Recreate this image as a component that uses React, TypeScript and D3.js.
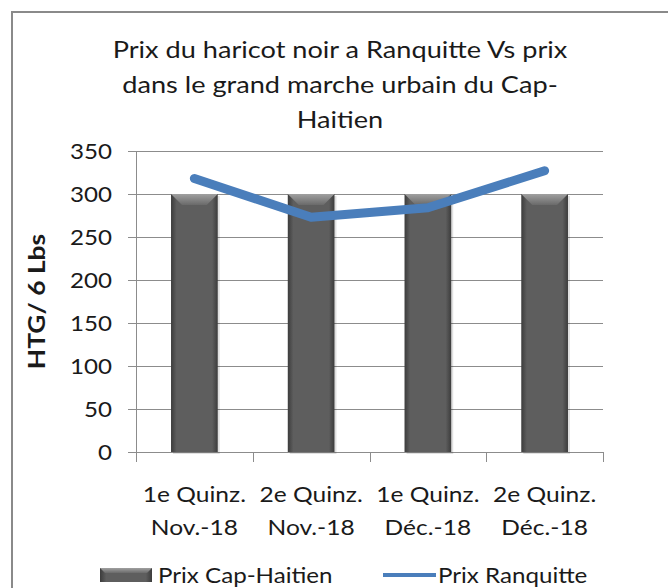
import { useEffect, useRef } from "react";
import * as d3 from "d3";

const categories = [
  ["1e Quinz.", "Nov.-18"],
  ["2e Quinz.", "Nov.-18"],
  ["1e Quinz.", "Déc.-18"],
  ["2e Quinz.", "Déc.-18"],
];
const prixCapHaitien = [300, 300, 300, 300];
const prixRanquitte = [318, 273, 284, 327];
const yTicks = [0, 50, 100, 150, 200, 250, 300, 350];
const titleLines = [
  "Prix du haricot noir a Ranquitte Vs prix",
  "dans le grand marche urbain du Cap-",
  "Haitien",
];

const FONT = "Lato, 'Open Sans', sans-serif";
const SX = 1.15; // the reference text is a bit wider than Lato

function App() {
  const svgRef = useRef<SVGSVGElement | null>(null);

  useEffect(() => {
    const svgEl = svgRef.current;
    if (!svgEl) return;
    const width = 668;
    const height = 588;
    const margin = { top: 151, right: 65, bottom: 136, left: 136 };
    const chartW = width - margin.left - margin.right;
    const chartH = height - margin.top - margin.bottom;

    const svg = d3.select(svgEl);
    svg.selectAll("*").remove();

    // text with horizontal stretch around its anchor
    const label = (
      parent: d3.Selection<any, any, any, any>,
      tx: number,
      ty: number,
      str: string,
      size: number,
      anchor = "start",
      sx = SX
    ) =>
      parent
        .append("text")
        .attr("transform", `translate(${tx},${ty}) scale(${sx},1)`)
        .attr("text-anchor", anchor)
        .attr("font-family", FONT)
        .attr("font-size", size)
        .attr("fill", "#1a1a1a")
        .text(str);

    const defs = svg.append("defs");
    const barGrad = defs
      .append("linearGradient")
      .attr("id", "barGrad")
      .attr("x1", "0")
      .attr("x2", "1")
      .attr("y1", "0")
      .attr("y2", "0");
    barGrad.append("stop").attr("offset", "0").attr("stop-color", "#3c3c3c");
    barGrad.append("stop").attr("offset", "0.12").attr("stop-color", "#5e5e5e");
    barGrad.append("stop").attr("offset", "0.88").attr("stop-color", "#5e5e5e");
    barGrad.append("stop").attr("offset", "1").attr("stop-color", "#3c3c3c");
    const bevelGrad = defs
      .append("linearGradient")
      .attr("id", "bevelGrad")
      .attr("x1", "0")
      .attr("x2", "0")
      .attr("y1", "0")
      .attr("y2", "1");
    bevelGrad.append("stop").attr("offset", "0").attr("stop-color", "#a0a0a0");
    bevelGrad.append("stop").attr("offset", "1").attr("stop-color", "#6a6a6a");

    // outer frame
    svg
      .append("rect")
      .attr("x", 12)
      .attr("y", 12)
      .attr("width", 700)
      .attr("height", 620)
      .attr("fill", "#fff")
      .attr("stroke", "#8a8a8a")
      .attr("stroke-width", 2);

    // title
    titleLines.forEach((t, i) => label(svg, 340, 58 + i * 35, t, 23, "middle", 1.18));

    const x = d3
      .scaleBand()
      .domain(categories.map((_c, i) => String(i)))
      .range([0, chartW]);

    const y = d3.scaleLinear().domain([0, 350]).range([chartH, 0]);

    const g = svg
      .append("g")
      .attr("transform", `translate(${margin.left},${margin.top})`);

    // gridlines
    g.append("g")
      .selectAll("line")
      .data(yTicks)
      .enter()
      .append("line")
      .attr("x1", -8)
      .attr("x2", chartW)
      .attr("y1", (d) => Math.round(y(d)) + 0.5)
      .attr("y2", (d) => Math.round(y(d)) + 0.5)
      .attr("stroke", "#8c8c8c")
      .attr("stroke-width", 1);

    // y axis line
    g.append("line")
      .attr("x1", 0.5)
      .attr("x2", 0.5)
      .attr("y1", 0)
      .attr("y2", chartH)
      .attr("stroke", "#8c8c8c");

    // x ticks at category boundaries
    const boundaries = d3.range(categories.length + 1).map((i) => i * x.step());
    g.append("g")
      .selectAll("line")
      .data(boundaries)
      .enter()
      .append("line")
      .attr("x1", (d) => Math.round(d) + 0.5)
      .attr("x2", (d) => Math.round(d) + 0.5)
      .attr("y1", chartH)
      .attr("y2", chartH + 10)
      .attr("stroke", "#8c8c8c");

    // y tick labels
    yTicks.forEach((t) => label(g, -24, y(t) + 7.5, String(t), 21, "end"));

    // y axis title
    svg
      .append("text")
      .attr("transform", `translate(45,${margin.top + chartH / 2}) rotate(-90) scale(1.2,1)`)
      .attr("text-anchor", "middle")
      .attr("font-family", FONT)
      .attr("font-weight", "bold")
      .attr("font-size", 22)
      .attr("fill", "#1a1a1a")
      .text("HTG/ 6 Lbs");

    // x labels
    categories.forEach((c, i) => {
      const cx = (x(String(i)) ?? 0) + x.bandwidth() / 2;
      c.forEach((line, j) => label(g, cx, chartH + 50 + j * 33, line, 21, "middle", 1.17));
    });

    // bars
    const barW = x.bandwidth() * 0.4;
    const bevel = 11;
    const bars = g
      .append("g")
      .selectAll("g")
      .data(prixCapHaitien)
      .enter()
      .append("g")
      .attr(
        "transform",
        (_d, i) =>
          `translate(${(x(String(i)) ?? 0) + (x.bandwidth() - barW) / 2},0)`
      );
    bars
      .append("rect")
      .attr("x", 2)
      .attr("y", (d) => y(d) + 2)
      .attr("width", barW)
      .attr("height", (d) => chartH - y(d))
      .attr("fill", "#000")
      .attr("opacity", 0.12);
    bars
      .append("rect")
      .attr("x", 0)
      .attr("y", (d) => y(d))
      .attr("width", barW)
      .attr("height", (d) => chartH - y(d))
      .attr("fill", "url(#barGrad)");
    bars
      .append("path")
      .attr(
        "d",
        (d) =>
          `M0,${y(d)} L${barW},${y(d)} L${barW - bevel},${y(d) + bevel} L${bevel},${y(d) + bevel} Z`
      )
      .attr("fill", "url(#bevelGrad)");

    // line
    const line = d3
      .line<number>()
      .x((_d, i) => (x(String(i)) ?? 0) + x.bandwidth() / 2)
      .y((d) => y(d));
    g.append("path")
      .datum(prixRanquitte)
      .attr("d", line)
      .attr("fill", "none")
      .attr("stroke", "#4a7ebb")
      .attr("stroke-width", 9)
      .attr("stroke-linecap", "round")
      .attr("stroke-linejoin", "round");

    // legend
    const lg = svg.append("g");
    lg.append("rect")
      .attr("x", 100)
      .attr("y", 568)
      .attr("width", 52)
      .attr("height", 14)
      .attr("fill", "url(#barGrad)");
    lg.append("path")
      .attr("d", "M100,568 L152,568 L147,573 L105,573 Z")
      .attr("fill", "url(#bevelGrad)");
    label(lg, 158, 583, "Prix Cap-Haitien", 21);
    lg.append("line")
      .attr("x1", 383)
      .attr("x2", 436)
      .attr("y1", 575)
      .attr("y2", 575)
      .attr("stroke", "#4a7ebb")
      .attr("stroke-width", 4);
    label(lg, 438, 583, "Prix Ranquitte", 21);
  }, []);

  return (
    <svg
      ref={svgRef}
      width={668}
      height={588}
      style={{ position: "absolute", left: 0, top: 0, background: "#fff" }}
    />
  );
}

export default App;
